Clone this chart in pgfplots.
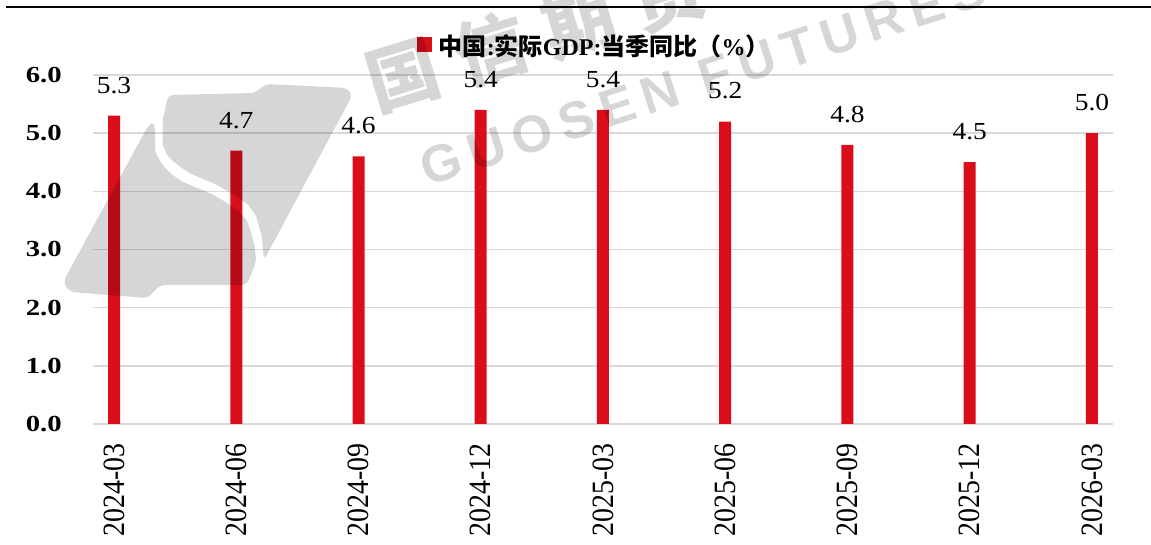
\documentclass[border=0pt]{standalone}
\usepackage{pgfplots}
\pgfplotsset{compat=1.18}
\usepackage{fontspec}
\setmainfont{Liberation Serif}
\newfontfamily\yfont[FakeStretch=1.25]{Liberation Serif}
\newfontfamily\dfont[FakeStretch=1.12]{Liberation Serif}
\newfontfamily\xfont[FakeStretch=0.9]{Liberation Serif}
\newfontfamily\cjk{Noto Sans CJK SC}
\newfontfamily\wmfont[LetterSpace=17]{Liberation Sans}
\definecolor{barred}{RGB}{218,14,27}
\definecolor{gridgray}{RGB}{217,217,217}

\begin{document}
\begin{tikzpicture}[x=1pt,y=1pt]
\clip (0,0) rectangle (1151,545);
\begin{axis}[
  at={(93pt,121pt)}, anchor=south west,
  scale only axis, width=1020pt, height=349pt,
  xmin=-0.172, xmax=8.172, ymin=0, ymax=6,
  xtick={0,...,8},
  xticklabels={2024-03,2024-06,2024-09,2024-12,2025-03,2025-06,2025-09,2025-12,2026-03},
  ytick={0,1,...,6},
  /pgf/number format/assume math mode=true,
  yticklabel={\pgfmathprintnumber[fixed,fixed zerofill,precision=1]{\tick}},
  yticklabel style={font=\yfont\bfseries\fontsize{23}{23}\selectfont, anchor=east, inner sep=0pt, xshift=-31pt},
  xticklabel style={font=\xfont\fontsize{31}{31}\selectfont, rotate=90, anchor=east, inner sep=0pt},
  xticklabel shift=19pt,
  axis line style={draw=none},
  major tick length=0pt,
  tick style={draw=none},
  ymajorgrids,
  major grid style={gridgray, line width=1.5pt},
  nodes near coords={\pgfmathprintnumber[fixed,fixed zerofill,precision=1]{\pgfplotspointmeta}},
  every node near coord/.append style={anchor=south, inner sep=0pt, yshift=22pt, text=black, font=\dfont\fontsize{24.5}{24.5}\selectfont},
  legend style={at={(axis description cs:0.3176,1.086)}, anchor=west, draw=none, fill=none,
    inner sep=0pt, outer sep=0pt, nodes={inner sep=0pt, text depth=0pt},
    /tikz/every odd column/.append style={column sep=7pt},
    font=\bfseries\fontsize{24}{24}\selectfont},
]
\addplot[ybar, bar width=12pt, fill=barred, draw=none,
  legend image code/.code={\fill[barred] (0pt,-7.5pt) rectangle (15pt,7.5pt);}]
  coordinates {(0,5.3) (1,4.7) (2,4.6) (3,5.4) (4,5.4) (5,5.2) (6,4.8) (7,4.5) (8,5.0)};
\addlegendentry{{\cjk\bfseries 中国}:{\cjk\bfseries 实际}GDP:{\cjk\bfseries 当季同比（}\%{\cjk\bfseries ）}}
\end{axis}
% watermark
\begin{scope}[shift={(0,545)}, yscale=-1]
  \fill[black, fill opacity=0.16, rounded corners=5pt]
    (63,282) -- (148,126) -- (154,121)
    -- plot[smooth] coordinates {(155,135) (158,157) (177,178) (217,197) (243,216) (253,240) (256,262)}
    -- (247,285) -- (160,285) -- (148,298) -- (70,292) -- cycle;
  \fill[black, fill opacity=0.16, rounded corners=5pt]
    (168,95) -- (255,93) -- (266,84) -- (348,88) -- (352,96) -- (264,260)
    -- plot[smooth] coordinates {(262,240) (252,210) (224,189) (185,170) (165,150) (163,120)}
    -- cycle;
\end{scope}
\node[rotate=18, anchor=base west, inner sep=0pt, text=black, text opacity=0.16,
  font=\wmfont\bfseries\fontsize{52}{52}\selectfont] at (427,358) {GUOSEN FUTURES};
\node[rotate=17, anchor=base west, inner sep=0pt, text=black, text opacity=0.16,
  font=\cjk\bfseries\fontsize{72}{72}\selectfont] at (376,433) {国\hspace{20pt}信\hspace{20pt}期\hspace{20pt}货};
\draw[line width=2.3pt] (6,538) -- (1151,538);
\end{tikzpicture}
\end{document}
